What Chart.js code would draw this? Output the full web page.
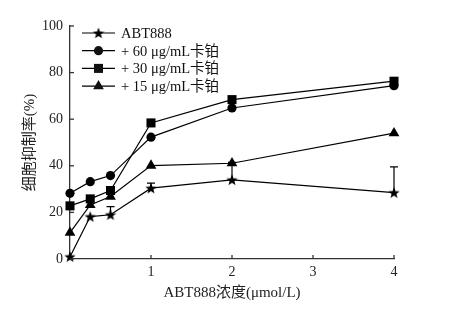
<!DOCTYPE html>
<html><head><meta charset="utf-8">
<script src="https://cdn.jsdelivr.net/npm/chart.js@4"></script>
<style>html,body{margin:0;padding:0;background:#fff}</style></head>
<body><canvas id="c" width="456" height="313"></canvas>
<script>
const concentrations = [0, 0.25, 0.5, 1, 2, 4];
const abt888 = [1, 18.2, 19, 30.4, 34, 28.5];
const carbo60 = [28.2, 33.2, 35.8, 52.3, 64.8, 74.4];
const carbo30 = [22.8, 25.8, 29.4, 58.4, 68.4, 76.3];
const carbo15 = [11.3, 23.2, 26.8, 40.1, 41.1, 54];
const abt888Err = [0, 0, 3.5, 2.2, 7.5, 11];
const seriesLabels = ['ABT888', '+ 60 μg/mL卡铂', '+ 30 μg/mL卡铂', '+ 15 μg/mL卡铂'];
const yTickValues = [0, 20, 40, 60, 80, 100];
const xTickValues = [1, 2, 3, 4];
const xTitle = 'ABT888浓度(μmol/L)';
const yTitle = '细胞抑制率(%)';

const FONT = '"Liberation Serif", "Noto Sans CJK SC", serif';
Chart.defaults.font.family = FONT;
Chart.defaults.color = '#222';

function makeStar(size) {
  const cv = document.createElement('canvas');
  cv.width = size; cv.height = size;
  const g = cv.getContext('2d');
  const cx = size / 2, cy = size / 2 + 0.5, R = size / 2, r = R * 0.42;
  g.beginPath();
  for (let i = 0; i < 10; i++) {
    const a = -Math.PI / 2 + i * Math.PI / 5;
    const rr = i % 2 ? r : R;
    g.lineTo(cx + rr * Math.cos(a), cy + rr * Math.sin(a));
  }
  g.closePath();
  g.fillStyle = '#000';
  g.fill();
  return cv;
}
const star = makeStar(12);

const pts = arr => concentrations.map((x, i) => ({x, y: arr[i]}));
const base = {borderColor: '#000', backgroundColor: '#000', borderWidth: 1.2, pointBorderWidth: 0, clip: false, tension: 0};
const datasets = [
  Object.assign({}, base, {label: seriesLabels[0], data: pts(abt888), pointStyle: star, pointRadius: 6}),
  Object.assign({}, base, {label: seriesLabels[1], data: pts(carbo60), pointStyle: 'circle', pointRadius: 4.6}),
  Object.assign({}, base, {label: seriesLabels[2], data: pts(carbo30), pointStyle: 'rect', pointRadius: 6.4}),
  Object.assign({}, base, {label: seriesLabels[3], data: pts(carbo15), pointStyle: 'triangle', pointRadius: 6.2})
];

const deco = {
  id: 'deco',
  afterDatasetsDraw(chart) {
    const ctx = chart.ctx, xs = chart.scales.x, ys = chart.scales.y;
    ctx.save();
    ctx.strokeStyle = '#333'; ctx.lineWidth = 1.3;
    // inward ticks
    yTickValues.forEach(v => { const y = ys.getPixelForValue(v); ctx.beginPath(); ctx.moveTo(xs.left, y); ctx.lineTo(xs.left + 4, y); ctx.stroke(); });
    xTickValues.forEach(v => { const x = xs.getPixelForValue(v); ctx.beginPath(); ctx.moveTo(x, ys.bottom); ctx.lineTo(x, ys.bottom - 4); ctx.stroke(); });
    // error bars (upper)
    ctx.strokeStyle = '#000'; ctx.lineWidth = 1.2;
    abt888Err.forEach((e, i) => {
      if (!e) return;
      const x = xs.getPixelForValue(concentrations[i]);
      const y0 = ys.getPixelForValue(abt888[i]);
      const y1 = ys.getPixelForValue(abt888[i] + e);
      ctx.beginPath(); ctx.moveTo(x, y0); ctx.lineTo(x, y1);
      ctx.moveTo(x - 4, y1); ctx.lineTo(x + 4, y1); ctx.stroke();
    });
    // legend
    ctx.font = '14.5px ' + FONT;
    ctx.textBaseline = 'middle';
    ctx.fillStyle = '#111';
    chart.data.datasets.forEach((ds, i) => {
      const y = 33 + i * 17.7;
      ctx.strokeStyle = '#000'; ctx.lineWidth = 1.2;
      ctx.beginPath(); ctx.moveTo(82, y); ctx.lineTo(115, y); ctx.stroke();
      Chart.helpers.drawPoint(ctx, {pointStyle: ds.pointStyle, radius: ds.pointRadius, borderWidth: 0, rotation: 0}, 98.5, y);
      ctx.fillStyle = '#000';
      ctx.fill && null;
      ctx.fillStyle = '#111';
      ctx.fillText(ds.label, 121, y + 1);
    });
    ctx.restore();
  }
};

new Chart(document.getElementById('c'), {
  type: 'line',
  data: {datasets},
  options: {
    responsive: false, animation: false, devicePixelRatio: 1,
    layout: {padding: {left: 0, top: 26, right: 62, bottom: 0}},
    plugins: {legend: {display: false}, tooltip: {enabled: false}},
    scales: {
      x: {
        type: 'linear', min: 0, max: 4,
        afterFit: s => { s.height = 54; },
        afterBuildTicks: s => { s.ticks = xTickValues.map(v => ({value: v})); },
        grid: {display: true, drawOnChartArea: false, drawTicks: false},
        border: {display: true, color: '#333', width: 1.3},
        ticks: {padding: 5, font: {size: 14}, color: '#222', maxRotation: 0},
        title: {display: true, text: xTitle, font: {size: 15}, color: '#222', padding: {top: 0, bottom: 11}}
      },
      y: {
        min: 0, max: 100,
        afterFit: s => { s.width = 70; },
        afterBuildTicks: s => { s.ticks = yTickValues.map(v => ({value: v})); },
        grid: {display: true, drawOnChartArea: false, drawTicks: false},
        border: {display: true, color: '#333', width: 1.3},
        ticks: {padding: 7, font: {size: 14}, color: '#222'},
        title: {display: true, text: yTitle, font: {size: 15}, color: '#222', padding: {top: 21, bottom: 0}}
      }
    }
  },
  plugins: [deco]
});
</script></body></html>
